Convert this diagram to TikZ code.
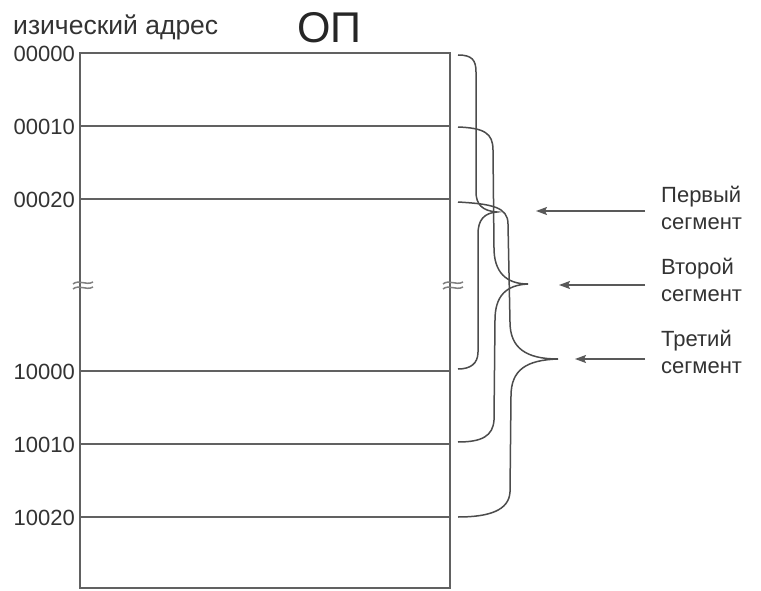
\documentclass[tikz,border=0pt]{standalone}
\usepackage{fontspec}
\setmainfont{Liberation Sans}
\usetikzlibrary{arrows.meta}
\begin{document}
\begin{tikzpicture}[x=1pt,y=-1pt,
  frame/.style={draw=black!62, line width=1.8pt},
  rowline/.style={draw=black!62, line width=1.8pt},
  bracepath/.style={draw=black!70, line width=1.5pt},
  breakmark/.style={draw=black!50, line width=1.5pt},
  pointer/.style={draw=black!65, line width=1.4pt, -{Stealth[length=11pt,width=8pt,inset=2pt]}},
  addr/.style={anchor=east, inner sep=0pt, text=black!80, font=\fontsize{22}{24}\selectfont},
  seglabel/.style={anchor=north west, inner sep=0pt, align=left, text=black!80, font=\fontsize{22}{27}\selectfont}]
\useasboundingbox (0,0) rectangle (761,591);
\fill[white] (0,0) rectangle (761,591);

% title texts
\node[anchor=base west, inner sep=0pt, text=black!80, font=\fontsize{26.5}{28}\selectfont] (title) at (13,35) {изический адрес};
\node[anchor=base west, inner sep=0pt, text=black!85, font=\fontsize{43}{45}\selectfont] (op) at (297,43) {ОП};

% memory frame
\coordinate (tl) at (80,53);
\coordinate (br) at (450,588);
\draw[frame] (tl) rectangle (br);

% address rows
\foreach \n/\y/\t in {r0/53/00000, r1/126/00010, r2/199/00020, r3/371/10000, r4/444/10010, r5/517/10020}{
  \coordinate (\n L) at (80,\y);
  \coordinate (\n R) at (450,\y);
  \node[addr] (\n lab) at (75,\y+1) {\t};
}
\foreach \n in {r1,r2,r3,r4,r5}{
  \draw[rowline] (\n L) -- (\n R);
}

% break marks
\foreach \bx in {83,453}{
  \begin{scope}[shift={(\bx,285)}]
    \draw[breakmark] (-10,-1) .. controls (-4,-6) and (3,1) .. (10,-3);
    \draw[breakmark] (-10,4) .. controls (-4,-1) and (3,6) .. (10,2);
  \end{scope}
}

% brace 1: 00000 .. 10000
\coordinate (b1top) at (458,55);
\coordinate (b1tip) at (497,212);
\coordinate (b1bot) at (458,369);
\draw[bracepath] (b1top) .. controls (472,55) and (476,60) .. (476,72)
  -- (476,192) .. controls (476,204) and (482,211) .. (b1tip)
  .. controls (484,213) and (478,220) .. (478,234)
  -- (478,352) .. controls (478,364) and (470,369) .. (b1bot);

% brace 2: 00010 .. 10010
\coordinate (b2top) at (458,127);
\coordinate (b2tip) at (528,284);
\coordinate (b2bot) at (458,442);
\draw[bracepath] (b2top) .. controls (484,128) and (493,133) .. (493,150)
  -- (494,248) .. controls (494,272) and (506,284) .. (b2tip)
  .. controls (506,285) and (495,296) .. (495,320)
  -- (494,420) .. controls (493,436) and (482,442) .. (b2bot);

% brace 3: 00020 .. 10020
\coordinate (b3top) at (458,202);
\coordinate (b3tip) at (558,359);
\coordinate (b3bot) at (458,517);
\draw[bracepath] (b3top) .. controls (492,204) and (508,207) .. (508,224)
  -- (510,322) .. controls (510,348) and (526,359) .. (b3tip)
  .. controls (526,360) and (511,370) .. (511,396)
  -- (510,492) .. controls (509,510) and (490,517) .. (b3bot);

% segment labels
\node[seglabel] (s1) at (661,186) {Первый\\сегмент};
\node[seglabel] (s2) at (661,258) {Второй\\сегмент};
\node[seglabel] (s3) at (661,330) {Третий\\сегмент};

% arrows
\coordinate (a1s) at (645,211); \coordinate (a1e) at (536,211);
\coordinate (a2s) at (645,285); \coordinate (a2e) at (559,285);
\coordinate (a3s) at (645,359); \coordinate (a3e) at (575,359);
\draw[pointer] (a1s) -- (a1e);
\draw[pointer] (a2s) -- (a2e);
\draw[pointer] (a3s) -- (a3e);
\end{tikzpicture}
\end{document}
